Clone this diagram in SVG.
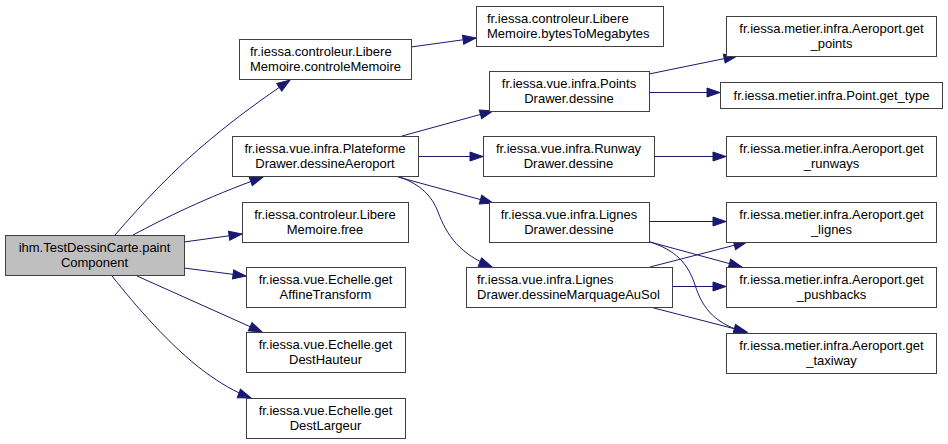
<svg xmlns="http://www.w3.org/2000/svg" width="948" height="444" viewBox="0 0 948 444">
<defs>
<marker id="arr" markerUnits="userSpaceOnUse" markerWidth="15" markerHeight="11" refX="13" refY="4.5" orient="auto" overflow="visible">
<path d="M0,0 L13,4.5 L0,9 Z" fill="#191970" stroke="#191970" stroke-width="1"/>
</marker>
</defs>
<style>
.node rect{fill:#ffffff;stroke:#404040;stroke-width:1}
.node.root rect{fill:#bfbfbf}
.node text{font-family:"Liberation Sans",Arial,sans-serif;font-size:13px;fill:#000000}
.c{text-anchor:middle}
.l{text-anchor:start}
.edges path{fill:none;stroke:#191970;stroke-width:1;marker-end:url(#arr)}
</style>
<rect width="948" height="444" fill="#ffffff"/>
<g id="edges" class="edges">
<path d="M115,235 C140,206 175,168 212,138 C236,118 262,99 290,80"/>
<path d="M133,235 C165,218 205,198 263,177"/>
<path d="M184,242 L242,234"/>
<path d="M184,268 L246,276"/>
<path d="M137,276 L262,332"/>
<path d="M112,276 C135,305 170,346 205,372 C220,383 235,392 251,398"/>
<path d="M411,47 L476,38"/>
<path d="M402,136 L493,111"/>
<path d="M418,156.5 L483,156.5"/>
<path d="M398,177 L493,203"/>
<path d="M400,177 C421,185 432,196 438,212 C447,236 460,254 492,267"/>
<path d="M649,74 L737,56"/>
<path d="M649,92.5 L720,92.5"/>
<path d="M654,156.5 L726,156.5"/>
<path d="M649,221.5 L726,221.5"/>
<path d="M650,242 L742,267"/>
<path d="M650,242 C675,250 688,263 695,285 C703,310 716,324 747,333"/>
<path d="M650,267 L747,242"/>
<path d="M672,286.5 L726,286.5"/>
<path d="M650,307 L747,332"/>
</g>
<g id="n_paint" class="node root"><rect x="5.5" y="235.5" width="179" height="40"/><text class="c" x="94.5" y="252">ihm.TestDessinCarte.paint</text><text class="c" x="94.5" y="267">Component</text></g>
<g id="n_controleMemoire" class="node"><rect x="239.5" y="39.5" width="172" height="40"/><text class="l" x="250" y="56">fr.iessa.controleur.Libere</text><text class="l" x="250" y="71">Memoire.controleMemoire</text></g>
<g id="n_bytesToMegabytes" class="node"><rect x="476.5" y="6.5" width="187" height="40"/><text class="l" x="487" y="23">fr.iessa.controleur.Libere</text><text class="l" x="487" y="38">Memoire.bytesToMegabytes</text></g>
<g id="n_plateforme" class="node"><rect x="232.5" y="136.5" width="186" height="40"/><text class="c" x="325" y="153">fr.iessa.vue.infra.Plateforme</text><text class="c" x="325" y="168">Drawer.dessineAeroport</text></g>
<g id="n_free" class="node"><rect x="242.5" y="202.5" width="166" height="40"/><text class="c" x="325" y="219">fr.iessa.controleur.Libere</text><text class="c" x="325" y="234">Memoire.free</text></g>
<g id="n_affine" class="node"><rect x="246.5" y="267.5" width="159" height="40"/><text class="c" x="325.5" y="284">fr.iessa.vue.Echelle.get</text><text class="c" x="325.5" y="299">AffineTransform</text></g>
<g id="n_hauteur" class="node"><rect x="246.5" y="332.5" width="159" height="40"/><text class="c" x="325.5" y="349">fr.iessa.vue.Echelle.get</text><text class="c" x="325.5" y="364">DestHauteur</text></g>
<g id="n_largeur" class="node"><rect x="246.5" y="398.5" width="159" height="40"/><text class="c" x="325.5" y="415">fr.iessa.vue.Echelle.get</text><text class="c" x="325.5" y="430">DestLargeur</text></g>
<g id="n_points" class="node"><rect x="489.5" y="71.5" width="160" height="40"/><text class="c" x="569" y="88">fr.iessa.vue.infra.Points</text><text class="c" x="569" y="103">Drawer.dessine</text></g>
<g id="n_runway" class="node"><rect x="483.5" y="136.5" width="171" height="40"/><text class="c" x="568.5" y="153">fr.iessa.vue.infra.Runway</text><text class="c" x="568.5" y="168">Drawer.dessine</text></g>
<g id="n_lignes" class="node"><rect x="489.5" y="202.5" width="160" height="40"/><text class="c" x="569" y="219">fr.iessa.vue.infra.Lignes</text><text class="c" x="569" y="234">Drawer.dessine</text></g>
<g id="n_marquage" class="node"><rect x="466.5" y="267.5" width="206" height="40"/><text class="l" x="477" y="284">fr.iessa.vue.infra.Lignes</text><text class="l" x="477" y="299">Drawer.dessineMarquageAuSol</text></g>
<g id="n_get_points" class="node"><rect x="726.5" y="16.5" width="210" height="40"/><text class="c" x="831.5" y="33">fr.iessa.metier.infra.Aeroport.get</text><text class="c" x="831.5" y="48">_points</text></g>
<g id="n_get_type" class="node"><rect x="720.5" y="82.5" width="222" height="26"/><text class="c" x="831.5" y="99.5">fr.iessa.metier.infra.Point.get_type</text></g>
<g id="n_get_runways" class="node"><rect x="726.5" y="136.5" width="210" height="40"/><text class="c" x="831.5" y="153">fr.iessa.metier.infra.Aeroport.get</text><text class="c" x="831.5" y="168">_runways</text></g>
<g id="n_get_lignes" class="node"><rect x="726.5" y="202.5" width="210" height="40"/><text class="c" x="831.5" y="219">fr.iessa.metier.infra.Aeroport.get</text><text class="c" x="831.5" y="234">_lignes</text></g>
<g id="n_get_pushbacks" class="node"><rect x="726.5" y="267.5" width="210" height="40"/><text class="c" x="831.5" y="284">fr.iessa.metier.infra.Aeroport.get</text><text class="c" x="831.5" y="299">_pushbacks</text></g>
<g id="n_get_taxiway" class="node"><rect x="726.5" y="333.5" width="210" height="40"/><text class="c" x="831.5" y="350">fr.iessa.metier.infra.Aeroport.get</text><text class="c" x="831.5" y="365">_taxiway</text></g>
</svg>
